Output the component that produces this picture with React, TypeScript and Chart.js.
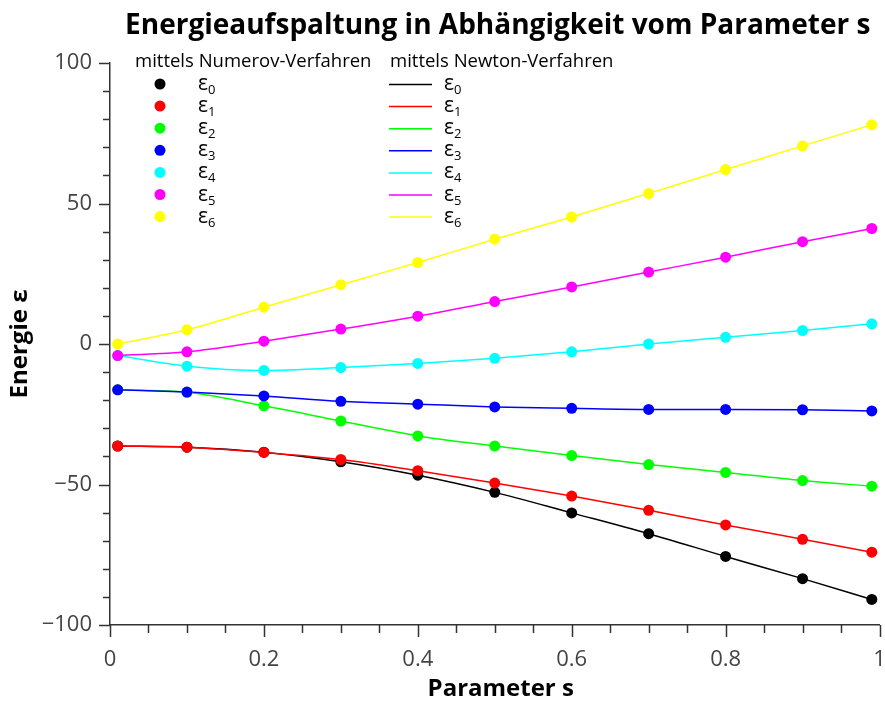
import React, { useEffect, useRef } from 'react';
import { Chart, registerables } from 'chart.js';

Chart.register(...registerables);

// Parameter s values
const S = [0.01, 0.1, 0.2, 0.3, 0.4, 0.5, 0.6, 0.7, 0.8, 0.9, 0.99];

// Energy levels
const E0 = [-36.3, -36.7, -38.5, -41.9, -46.7, -52.8, -60.1, -67.5, -75.6, -83.5, -90.9];
const E1 = [-36.3, -36.7, -38.6, -41.1, -45.1, -49.5, -54.1, -59.2, -64.4, -69.5, -74.1];
const E2 = [-16.3, -17.2, -22.0, -27.4, -32.7, -36.3, -39.7, -42.9, -45.7, -48.6, -50.6];
const E3 = [-16.3, -17.1, -18.5, -20.4, -21.4, -22.4, -22.9, -23.3, -23.3, -23.4, -23.8];
const E4 = [-4.1, -7.9, -9.4, -8.4, -6.9, -5.1, -2.8, 0.0, 2.4, 4.8, 7.2];
const E5 = [-4.1, -2.8, 1.0, 5.3, 9.9, 15.1, 20.3, 25.6, 30.9, 36.4, 41.1];
const E6 = [0.0, 5.1, 13.1, 21.1, 29.0, 37.3, 45.2, 53.6, 62.1, 70.5, 78.0];

const LEVELS = [E0, E1, E2, E3, E4, E5, E6];
const LEVEL_NAMES = ['0', '1', '2', '3', '4', '5', '6'];
const COLORS = ['#000000', '#ff0000', '#00ff00', '#0000ff', '#00ffff', '#ff00ff', '#ffff00'];

const TITLE = 'Energieaufspaltung in Abhängigkeit vom Parameter s';
const X_TITLE = 'Parameter s';
const Y_TITLE = 'Energie ε';
const LEGEND_NUMEROV = 'mittels Numerov-Verfahren';
const LEGEND_NEWTON = 'mittels Newton-Verfahren';

const FONT = '"Open Sans", "DejaVu Sans", sans-serif';
const AXIS_COLOR = '#333333';
const TICK_LABEL_COLOR = '#444444';

const overlayPlugin = {
  id: 'overlay',
  afterDraw(chart: any) {
    const { ctx, chartArea, scales } = chart;
    const xs = scales.x;
    const ys = scales.y;
    ctx.save();

    // tick marks
    ctx.strokeStyle = AXIS_COLOR;
    ctx.lineWidth = 1.5;
    for (let v = -100; v <= 100; v += 10) {
      const py = Math.round(ys.getPixelForValue(v)) + 0.5;
      const len = v % 50 === 0 ? 11 : 7;
      ctx.beginPath();
      ctx.moveTo(chartArea.left - len, py);
      ctx.lineTo(chartArea.left, py);
      ctx.stroke();
    }
    for (let i = 0; i <= 20; i++) {
      const v = i * 0.05;
      const px = Math.round(xs.getPixelForValue(v)) + 0.5;
      const len = i % 4 === 0 ? 12 : 8;
      ctx.beginPath();
      ctx.moveTo(px, chartArea.bottom);
      ctx.lineTo(px, chartArea.bottom + len);
      ctx.stroke();
    }

    // title
    ctx.fillStyle = '#000';
    ctx.textAlign = 'center';
    ctx.textBaseline = 'middle';
    ctx.font = `bold 28px ${FONT}`;
    ctx.fillText(TITLE, (chartArea.left + chartArea.right) / 2 + 3, 26);

    // axis titles
    ctx.font = `bold 24px ${FONT}`;
    ctx.fillText(X_TITLE, (chartArea.left + chartArea.right) / 2 + 6, 689);
    ctx.save();
    ctx.translate(20, (chartArea.top + chartArea.bottom) / 2);
    ctx.rotate(-Math.PI / 2);
    ctx.fillText(Y_TITLE, 0, 0);
    ctx.restore();

    // legend
    ctx.textAlign = 'left';
    ctx.font = `18.5px ${FONT}`;
    ctx.fillText(LEGEND_NUMEROV, 135, 62);
    ctx.fillText(LEGEND_NEWTON, 390, 62);
    const rowY0 = 84;
    const rowStep = 22.1;
    for (let k = 0; k < LEVELS.length; k++) {
      const y = rowY0 + k * rowStep;
      // marker
      ctx.fillStyle = COLORS[k];
      ctx.beginPath();
      ctx.arc(160, y, 5.5, 0, Math.PI * 2);
      ctx.fill();
      // line
      ctx.strokeStyle = COLORS[k];
      ctx.lineWidth = 1.5;
      ctx.beginPath();
      ctx.moveTo(389, y + 0.5);
      ctx.lineTo(432, y + 0.5);
      ctx.stroke();
      // labels
      ctx.fillStyle = '#000';
      for (const lx of [198, 444]) {
        ctx.font = `21px ${FONT}`;
        ctx.textBaseline = 'alphabetic';
        ctx.fillText('ε', lx, y + 6);
        const w = ctx.measureText('ε').width;
        ctx.font = `13px ${FONT}`;
        ctx.fillText(LEVEL_NAMES[k], lx + w, y + 10);
      }
      ctx.textBaseline = 'middle';
    }

    ctx.restore();
  },
};

export default function App() {
  const canvasRef = useRef<HTMLCanvasElement | null>(null);

  useEffect(() => {
    const canvas = canvasRef.current;
    if (!canvas) return;

    const lineSets = LEVELS.map((vals, k) => ({
      label: `Newton ε${LEVEL_NAMES[k]}`,
      data: S.map((s, i) => ({ x: s, y: vals[i] })),
      borderColor: COLORS[k],
      backgroundColor: COLORS[k],
      borderWidth: 1.5,
      pointRadius: 0,
      showLine: true,
      cubicInterpolationMode: 'monotone' as const,
      fill: false,
      order: 100 - k,
      clip: false as any,
    }));
    const pointSets = LEVELS.map((vals, k) => ({
      label: `Numerov ε${LEVEL_NAMES[k]}`,
      data: S.map((s, i) => ({ x: s, y: vals[i] })),
      borderColor: COLORS[k],
      backgroundColor: COLORS[k],
      borderWidth: 0,
      pointRadius: 5.5,
      pointBorderWidth: 0,
      showLine: false,
      order: 20 - k,
      clip: false as any,
    }));

    const chart = new Chart(canvas, {
      type: 'line',
      data: { datasets: [...pointSets, ...lineSets] as any },
      options: {
        animation: false,
        responsive: false,
        devicePixelRatio: 1,
        layout: { padding: { top: 63, right: 5, left: 0, bottom: 0 } },
        plugins: {
          legend: { display: false },
          title: { display: false },
          tooltip: { enabled: false },
        },
        scales: {
          x: {
            type: 'linear',
            min: 0,
            max: 1,
            grid: { display: true, drawOnChartArea: false, drawTicks: false },
            border: { display: true, color: AXIS_COLOR, width: 1.5 },
            ticks: {
              stepSize: 0.2,
              padding: 22,
              color: TICK_LABEL_COLOR,
              font: { family: FONT, size: 22 },
              maxRotation: 0,
              callback: (v: any) => String(Number(Number(v).toFixed(2))),
            },
            afterFit: (scale: any) => {
              scale.height = 77;
              scale.paddingLeft = 0;
              scale.paddingRight = 0;
            },
          },
          y: {
            type: 'linear',
            min: -100,
            max: 100,
            grid: { display: true, drawOnChartArea: false, drawTicks: false },
            border: { display: true, color: AXIS_COLOR, width: 1.5 },
            ticks: {
              stepSize: 50,
              padding: 18,
              color: TICK_LABEL_COLOR,
              font: { family: FONT, size: 22 },
              callback: (v: any) => String(v).replace('-', '\u2212'),
            },
            afterFit: (scale: any) => {
              scale.width = 110;
              scale.paddingTop = 0;
              scale.paddingBottom = 0;
            },
          },
        },
      },
      plugins: [overlayPlugin],
    });

    return () => chart.destroy();
  }, []);

  return (
    <div style={{ position: 'fixed', left: 0, top: 0, width: 885, height: 702, background: '#fff' }}>
      <canvas ref={canvasRef} width={885} height={702} style={{ width: 885, height: 702, display: 'block' }} />
    </div>
  );
}
